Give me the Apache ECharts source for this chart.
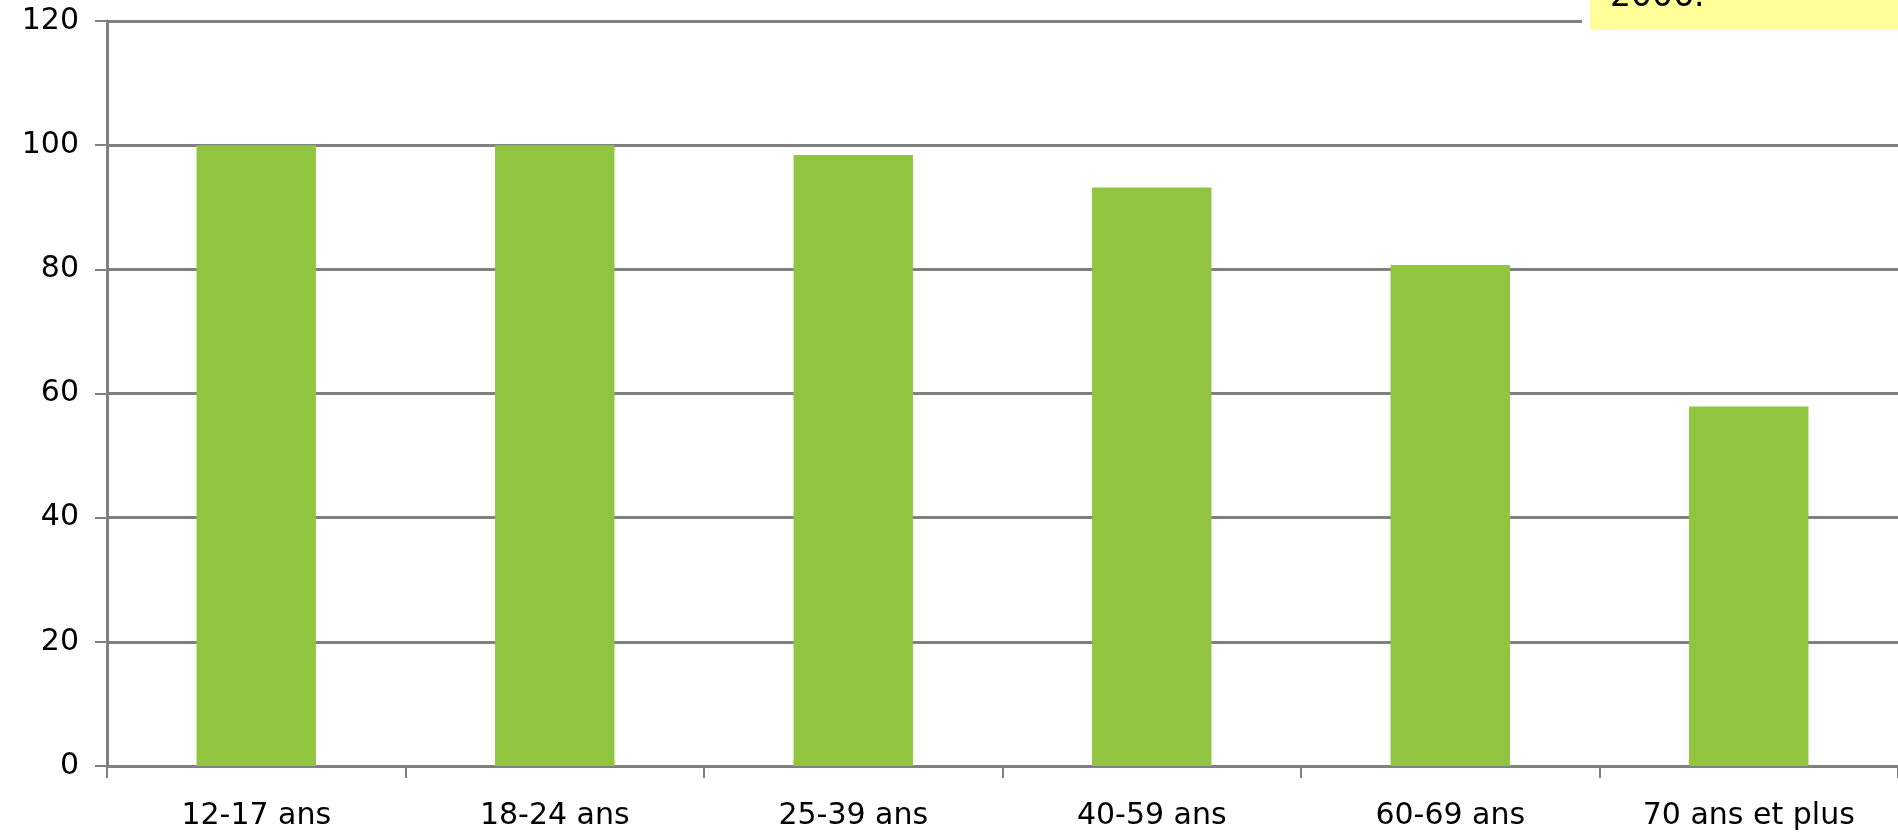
<!DOCTYPE html>
<html>
<head>
<meta charset="utf-8">
<script src="https://cdn.jsdelivr.net/npm/echarts@6/dist/echarts.min.js"></script>
<style>
  html, body { margin: 0; padding: 0; background: #ffffff; }
  #chart { width: 1898px; height: 835px; }
</style>
</head>
<body>
<div id="chart"></div>
<script>
// Age groups and the share (%) for each group
const categories = ['12-17 ans', '18-24 ans', '25-39 ans', '40-59 ans', '60-69 ans', '70 ans et plus'];
const values = [100, 100, 98.4, 93.2, 80.7, 57.9];
const noteText = '2006.';

const FONT = 'DejaVu Sans';
const GREY = '#808080';

const chart = echarts.init(document.getElementById('chart'), null, { renderer: 'canvas' });

chart.setOption({
  animation: false,
  backgroundColor: '#ffffff',
  grid: { left: 107, top: 21, right: -10, bottom: 69, containLabel: false },
  xAxis: {
    type: 'category',
    data: categories,
    boundaryGap: true,
    axisLine: { show: true, lineStyle: { color: GREY, width: 3 } },
    axisTick: { show: true, length: 12, lineStyle: { color: GREY, width: 2 } },
    axisLabel: { color: '#000000', fontFamily: FONT, fontSize: 30, margin: 35, interval: 0 },
    splitLine: { show: false }
  },
  yAxis: {
    type: 'value',
    min: 0,
    max: 120,
    interval: 20,
    axisLine: { show: true, lineStyle: { color: GREY, width: 3 } },
    axisTick: { show: true, length: 12, lineStyle: { color: GREY, width: 2 } },
    axisLabel: { color: '#000000', fontFamily: FONT, fontSize: 30, margin: 28, padding: [4, 0, 0, 0] },
    splitLine: { show: true, lineStyle: { color: GREY, width: 3 } }
  },
  series: [{
    type: 'bar',
    data: values,
    barWidth: '40%',
    itemStyle: { color: '#91C43F' }
  }],
  graphic: [
    // note box in the top-right corner, partly outside the canvas
    { type: 'rect', z: 100, shape: { x: 1582, y: -10, width: 330, height: 42 }, style: { fill: '#ffffff' } },
    { type: 'rect', z: 101, shape: { x: 1590, y: -10, width: 320, height: 40 }, style: { fill: '#FFFF99' } },
    { type: 'text', z: 102, x: 1610, y: 14,
      style: { text: noteText, font: '33px "DejaVu Sans"', fill: '#000000', verticalAlign: 'bottom', align: 'left' } }
  ]
});
</script>
</body>
</html>
